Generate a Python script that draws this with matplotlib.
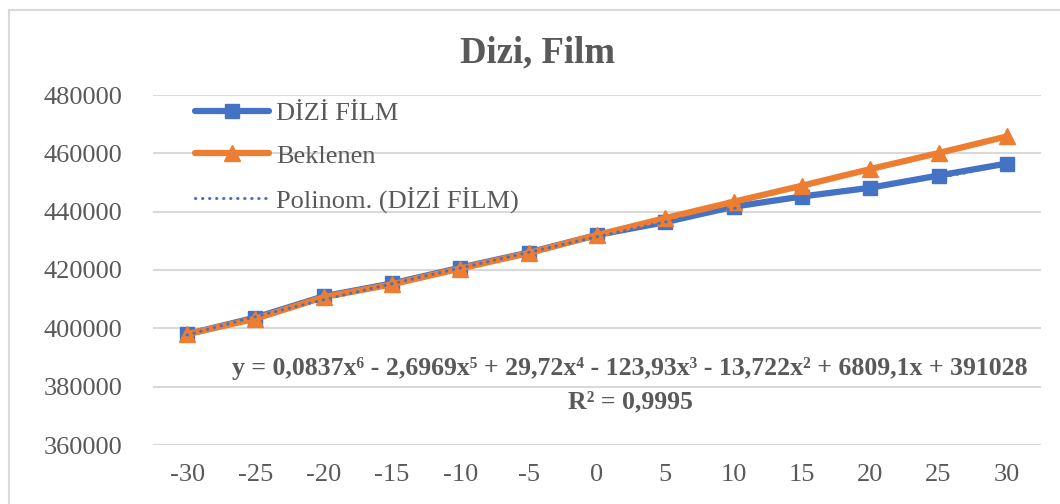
import numpy as np
import matplotlib
matplotlib.use("Agg")
import matplotlib.pyplot as plt
from matplotlib.lines import Line2D
from matplotlib.patches import Rectangle

categories = ["-30", "-25", "-20", "-15", "-10", "-5", "0", "5", "10", "15", "20", "25", "30"]
dizi_film = [398000, 403700, 411000, 415400, 420800, 426000, 432000, 436400, 441700, 445200, 448200, 452400, 456500]
beklenen = [398000, 403300, 410700, 415100, 420500, 425800, 432000, 437800, 443400, 448900, 454600, 460100, 465800]
# polynomial trendline coefficients (Excel, x = 1..13), highest power first
trend_coef = [0.0837, -2.6969, 29.72, -123.93, -13.722, 6809.1, 391028]
y_ticks = [360000, 380000, 400000, 420000, 440000, 460000, 480000]

BLUE = "#4472C4"
ORANGE = "#ED7D31"
GRAY = "#595959"
GRID = "#D9D9D9"
FONT = ["Liberation Serif", "DejaVu Serif"]

plt.rcParams["font.family"] = FONT

fig = plt.figure(figsize=(10.6, 5.04), dpi=100)
ax = fig.add_axes([153/1060, 1-445/504, (1041-153)/1060, (445-95)/504])

# chart border (top and left visible)
fig.patches.append(Rectangle((9/1060, -0.1), 1.2, 1-10/504+0.1, transform=fig.transFigure,
                             fill=False, edgecolor=GRID, linewidth=1.5, zorder=0))

xpos = np.arange(len(categories))
ax.plot(xpos, dizi_film, color=BLUE, linewidth=4.5, marker="s", markersize=10,
        solid_joinstyle="round", solid_capstyle="round", zorder=3, label="DİZİ FİLM")
ax.plot(xpos, beklenen, color=ORANGE, linewidth=4.5, marker="^", markersize=11,
        solid_joinstyle="round", solid_capstyle="round", zorder=4, label="Beklenen")

xt = np.linspace(1, len(categories), 300)
yt = np.polyval(trend_coef, xt)
ax.plot(xt - 1, yt, color=BLUE, linewidth=2.2, linestyle=(0, (0.1, 2.2)),
        dash_capstyle="round", zorder=5, label="Polinom. (DİZİ FİLM)")

ax.set_xlim(-0.5, len(categories) - 0.5)
ax.set_ylim(360000, 480000)
ax.set_yticks(y_ticks)
ax.set_yticklabels([str(v) for v in y_ticks])
ax.set_xticks(xpos)
ax.set_xticklabels(categories)
ax.tick_params(axis="both", length=0, labelsize=19, colors=GRAY)
ax.tick_params(axis="y", pad=22)
ax.tick_params(axis="x", pad=14)
ax.grid(axis="y", color=GRID, linewidth=1.5)
ax.set_axisbelow(True)
for s in ax.spines.values():
    s.set_visible(False)

fig.text(538/1060, 1-53/504, "Dizi, Film", ha="center", va="center",
         fontsize=26.5, fontweight="bold", color=GRAY)

eq = "y = 0,0837x⁶ - 2,6969x⁵ + 29,72x⁴ - 123,93x³ - 13,722x² + 6809,1x + 391028"
fig.text(630/1060, 1-369/504, eq, ha="center", va="center", fontsize=18.5,
         fontweight="bold", color=GRAY, family=FONT)
fig.text(630/1060, 1-402/504, "R² = 0,9995", ha="center", va="center", fontsize=18.5,
         fontweight="bold", color=GRAY, family=FONT)

handles = [
    Line2D([], [], color=BLUE, linewidth=4.5, marker="s", markersize=10, solid_capstyle="round"),
    Line2D([], [], color=ORANGE, linewidth=4.5, marker="^", markersize=11, solid_capstyle="round"),
    Line2D([], [], color=BLUE, linewidth=2.2, linestyle=(0, (0.1, 2.2)), dash_capstyle="round"),
]
leg = ax.legend(handles, ["DİZİ FİLM", "Beklenen", "Polinom. (DİZİ FİLM)"],
                loc="upper left", bbox_to_anchor=(0.035, 1.011), frameon=False,
                fontsize=19, handlelength=2.8, handletextpad=0.3, labelspacing=0.72,
                borderaxespad=0)
for t in leg.get_texts():
    t.set_color(GRAY)

fig.savefig("out.png", dpi=100)
